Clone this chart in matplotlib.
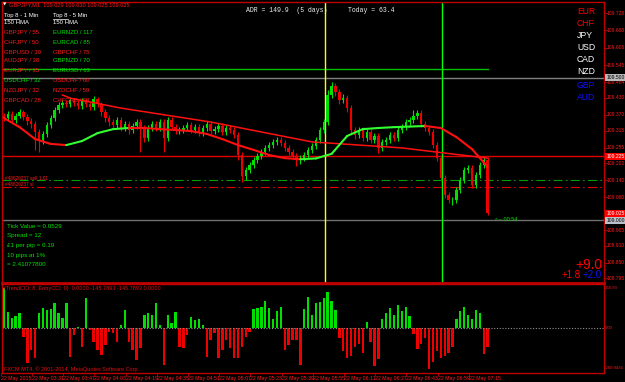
import numpy as np
import matplotlib
matplotlib.use('Agg')
import matplotlib.pyplot as plt
from matplotlib.lines import Line2D
from matplotlib.transforms import blended_transform_factory

plt.rcParams['font.family'] = ['Liberation Sans', 'DejaVu Sans']

W, H = 625, 382

# ---- GBPJPY candles, oldest first (one bar = 2 min, starting 03:15) ----
first_open = 109.366
closes = [109.359, 109.373, 109.352, 109.366, 109.380, 109.363, 109.349, 109.338, 109.310, 109.282,
          109.303, 109.334, 109.359, 109.387, 109.405, 109.412, 109.408, 109.422, 109.412, 109.401,
          109.419, 109.408, 109.398, 109.426, 109.408, 109.380, 109.359, 109.345, 109.334, 109.352,
          109.324, 109.338, 109.317, 109.331, 109.345, 109.324, 109.289, 109.324, 109.338, 109.324,
          109.345, 109.289, 109.352, 109.327, 109.313, 109.317, 109.324, 109.334, 109.317, 109.327,
          109.306, 109.324, 109.338, 109.313, 109.320, 109.331, 109.310, 109.324, 109.317, 109.299,
          109.229, 109.155, 109.176, 109.194, 109.211, 109.226, 109.240, 109.254, 109.264, 109.275,
          109.282, 109.271, 109.254, 109.240, 109.226, 109.211, 109.218, 109.229, 109.247, 109.261,
          109.282, 109.317, 109.345, 109.440, 109.472, 109.451, 109.422, 109.429, 109.394, 109.317,
          109.299, 109.317, 109.289, 109.310, 109.282, 109.296, 109.254, 109.275, 109.282, 109.299,
          109.289, 109.317, 109.327, 109.345, 109.352, 109.366, 109.377, 109.338, 109.324, 109.310,
          109.264, 109.218, 109.148, 109.088, 109.071, 109.071, 109.106, 109.141, 109.176, 109.183,
          109.124, 109.159, 109.194, 109.211, 109.025]
highs = [109.377, 109.384, 109.384, 109.377, 109.391, 109.387, 109.373, 109.359, 109.349, 109.320,
         109.313, 109.345, 109.370, 109.398, 109.415, 109.422, 109.422, 109.433, 109.429, 109.422,
         109.429, 109.429, 109.419, 109.436, 109.433, 109.415, 109.391, 109.370, 109.356, 109.363,
         109.363, 109.349, 109.349, 109.342, 109.356, 109.356, 109.334, 109.334, 109.349, 109.349,
         109.356, 109.356, 109.363, 109.363, 109.338, 109.327, 109.334, 109.345, 109.345, 109.338,
         109.338, 109.334, 109.349, 109.349, 109.331, 109.342, 109.342, 109.334, 109.334, 109.327,
         109.310, 109.240, 109.187, 109.204, 109.222, 109.236, 109.250, 109.264, 109.275, 109.285,
         109.292, 109.292, 109.282, 109.264, 109.250, 109.236, 109.229, 109.240, 109.257, 109.271,
         109.292, 109.327, 109.356, 109.458, 109.486, 109.482, 109.461, 109.443, 109.440, 109.405,
         109.327, 109.327, 109.327, 109.320, 109.320, 109.306, 109.306, 109.285, 109.292, 109.310,
         109.310, 109.327, 109.338, 109.356, 109.363, 109.387, 109.387, 109.387, 109.349, 109.334,
         109.320, 109.275, 109.229, 109.159, 109.099, 109.081, 109.117, 109.152, 109.187, 109.194,
         109.194, 109.169, 109.204, 109.222, 109.222]
lows = [109.349, 109.352, 109.342, 109.342, 109.359, 109.352, 109.334, 109.324, 109.247, 109.240,
        109.268, 109.292, 109.324, 109.349, 109.377, 109.394, 109.398, 109.398, 109.401, 109.391,
        109.391, 109.398, 109.387, 109.387, 109.398, 109.366, 109.345, 109.331, 109.320, 109.324,
        109.313, 109.313, 109.303, 109.306, 109.320, 109.240, 109.275, 109.278, 109.313, 109.313,
        109.313, 109.240, 109.278, 109.317, 109.303, 109.303, 109.306, 109.313, 109.306, 109.306,
        109.296, 109.296, 109.313, 109.303, 109.303, 109.310, 109.299, 109.299, 109.306, 109.289,
        109.211, 109.134, 109.141, 109.166, 109.183, 109.201, 109.215, 109.229, 109.243, 109.254,
        109.264, 109.261, 109.243, 109.229, 109.215, 109.190, 109.197, 109.208, 109.218, 109.236,
        109.250, 109.271, 109.306, 109.334, 109.429, 109.436, 109.408, 109.412, 109.380, 109.303,
        109.285, 109.289, 109.278, 109.278, 109.271, 109.271, 109.236, 109.243, 109.264, 109.271,
        109.278, 109.278, 109.306, 109.317, 109.334, 109.342, 109.356, 109.327, 109.313, 109.299,
        109.254, 109.208, 109.138, 109.078, 109.060, 109.053, 109.060, 109.095, 109.131, 109.166,
        109.113, 109.113, 109.148, 109.183, 109.018]

# 150 HMA (smooth, two-coloured) and long moving average
hma_idx = list(range(0, 125, 4))
hma_vals = [109.359, 109.327, 109.285, 109.268, 109.264, 109.278, 109.306, 109.320, 109.324, 109.324,
            109.320, 109.317, 109.313, 109.303, 109.285, 109.264, 109.247, 109.229, 109.218, 109.214,
            109.217, 109.233, 109.296, 109.320, 109.324, 109.327, 109.329, 109.331, 109.324, 109.292,
            109.250, 109.187]
ma_idx = [15, 17, 30, 53, 79, 102, 124]
ma_vals = [109.440, 109.429, 109.394, 109.345, 109.275, 109.254, 109.218]

# CCI histogram
cci = [260, 108, 65, 80, 98, -54, -224, -141, -195, 98,
       130, 119, 124, 163, 98, 65, 163, -184, -43, 6,
       -119, 195, -11, -87, -141, -174, -108, -22, -33, -87,
       22, 119, -87, -141, -206, -130, 87, 98, 87, 163,
       22, -239, 87, 33, 108, -119, -130, -43, 76, 54,
       59, 22, -184, -76, -33, -195, -141, -76, -130, -195,
       -195, -119, -54, -22, 124, 130, 141, 180, 130, 59,
       115, 141, -141, -108, -76, -76, -239, 124, 206, 87,
       163, 174, 200, 240, 180, 120, -60, -150, -196, -180,
       -120, -100, -163, 40, -90, -248, -200, 60, 100, 130,
       90, 150, 110, 140, 80, -40, -137, -100, -60, -267,
       -220, -150, -196, -180, -160, -120, 60, 110, 140, 90,
       60, 120, 100, -170, -120]

price_ticks = [109.728, 109.668, 109.606, 109.545, 109.484, 109.430, 109.370, 109.315, 109.255,
               109.200, 109.140, 109.080, 108.965, 108.910, 108.850, 108.795]
time_labels = ['22 May 2015', '22 May 03:31', '22 May 03:47', '22 May 04:03', '22 May 04:19',
               '22 May 04:35', '22 May 04:51', '22 May 05:07', '22 May 05:23', '22 May 05:39',
               '22 May 05:55', '22 May 06:11', '22 May 06:27', '22 May 06:43', '22 May 06:59',
               '22 May 07:15']

left_pairs = ['GBPJPY / 55', 'CHFJPY / 50', 'GBPUSD / 39', 'AUDJPY / 38',
              'EURJPY / 35', 'USDCHF / 32', 'NZDJPY / 32', 'GBPCAD / 28']
left_up = [0, 0, 0, 0, 0, 1, 0, 0]
right_pairs = ['EURNZD / 117', 'EURCAD / 85', 'GBPCHF / 75', 'GBPNZD / 70',
               'EURUSD / 63', 'USDCHF / 60', 'NZDCHF / 59', 'CHFCAD / 54']
right_up = [1, 1, 0, 1, 1, 0, 0, 0]
currencies = ['EUR', 'CHF', 'JPY', 'USD', 'CAD', 'NZD', 'GBP', 'AUD']
cur_colors = ['#ff0000', '#ff0000', 'white', 'white', 'white', 'white', '#1010ff', '#1010ff']
info_lines = ['Tick Value = 0.0529', 'Spread = 12', '\u00a31 per pip = 0.19',
              '10 pips at 1%', '= 2.41077800']

vline_pos = [82.3, 112.3]      # yellow, green
bid, level_500, level_000 = 109.025, 109.500, 109.000
hline_red, sell_level, sl_level, top_green = 109.225, 109.140, 109.117, 109.531

RED = '#ff1a1a'
GRN = '#00e000'
BORDER = '#c00000'
BULL = '#00e000'
BEAR = '#ee0000'
SMALL = 3.6


def fx(x):
    return x / W


def fy(y):
    return 1 - y / H


fig = plt.figure(figsize=(W / 100, H / 100), dpi=100, facecolor='black')
ax = fig.add_axes([fx(2), fy(283), fx(602), 281 / H], facecolor='black')
axc = fig.add_axes([fx(2), fy(373), fx(602), 89 / H], facecolor='black')

n = len(closes)
idx = np.arange(n)
opens = np.array([first_open] + closes[:-1])
closes_a = np.array(closes)

# candles
bull = closes_a >= opens
cols = np.where(bull, BULL, BEAR)
ax.vlines(idx, lows, highs, colors=cols, lw=0.8, zorder=3)
body = np.abs(closes_a - opens)
body = np.maximum(body, 0.0015)
ax.bar(idx, body, bottom=np.minimum(opens, closes_a), width=0.6, color=cols, zorder=4, linewidth=0)

# long MA
ax.plot(ma_idx, ma_vals, color='#ff1010', lw=1.1, zorder=5)
# HMA coloured by slope
for k in range(len(hma_idx) - 1):
    c = '#30ff30' if hma_vals[k + 1] > hma_vals[k] else '#ff1010'
    ax.plot(hma_idx[k:k + 2], hma_vals[k:k + 2], color=c, lw=1.5, zorder=5, solid_capstyle='round')

# horizontal lines
ax.plot([-0.5, n - 1], [top_green, top_green], color='#00c000', lw=1.0, zorder=2)
ax.axhline(level_500, color='#808080', lw=1.0, zorder=2)
ax.axhline(hline_red, color='#e00000', lw=1.0, zorder=2)
ax.axhline(sell_level, color='#00a000', lw=0.8, ls=(0, (8, 3, 1.5, 3)), zorder=2)
ax.axhline(sl_level, color='#e00000', lw=0.8, ls=(0, (8, 3, 1.5, 3)), zorder=2)
ax.axhline(level_000, color='#707070', lw=1.0, zorder=2)

# vertical lines
ax.axvline(vline_pos[0], color='#ffff00', lw=1.0, zorder=2)
ax.axvline(vline_pos[1], color='#00ff00', lw=1.0, zorder=2)

ax.set_xlim(-0.5, 153.85)
ax.set_ylim(108.779, 109.767)
axc.set_xlim(-0.5, 153.85)
axc.set_ylim(-291, 289)
for a in (ax, axc):
    a.set_xticks([])
    a.set_yticks([])
    for s in a.spines.values():
        s.set_color(BORDER)
        s.set_linewidth(1.0)
ax.spines['bottom'].set_linewidth(2.0)

# price scale labels
tr = blended_transform_factory(ax.transAxes, ax.transData)
for v in price_ticks:
    ax.text(1.004, v, f'{v:.3f}', transform=tr, color=RED, fontsize=SMALL,
            va='center', ha='left', clip_on=False)
    ax.plot([1.0, 1.005], [v, v], transform=tr, color=BORDER, lw=0.6, clip_on=False)
for v, fc, tc in [(level_500, '#b8b8b8', 'black'), (hline_red, '#ff0000', 'white'),
                  (bid, '#ff0000', 'white'), (level_000, '#b8c0c8', 'black')]:
    ax.text(1.004, v, f'{v:.3f}', transform=tr, color=tc, fontsize=SMALL, va='center', ha='left',
            clip_on=False, bbox=dict(boxstyle='square,pad=0.2', fc=fc, ec='none'), zorder=10)

# CCI histogram
cci_a = np.array(cci)
axc.bar(idx, cci_a, width=0.6, color=np.where(cci_a >= 0, '#00e000', '#ee0000'), linewidth=0)
axc.axhline(0, color='#909090', lw=0.8, ls=(0, (1, 1.5)))
trc = blended_transform_factory(axc.transAxes, axc.transData)
for v, s in [(260.93, '260.93'), (0, '0.00'), (-260.94, '-260.9435')]:
    axc.text(1.002, v, s, transform=trc, color=RED, fontsize=3.1, va='center', ha='left', clip_on=False)
axc.text(0.004, 0.95, '(TrendCCI: 8, EntryCCI: 0)  0.0000 -145.7893 -145.7893 0.0000',
         transform=axc.transAxes, color='#e01010', fontsize=4.0, va='center')
axc.text(0.004, 0.04, 'FXCM MT4, \u00a9 2001-2014, MetaQuotes Software Corp.',
         transform=axc.transAxes, color='#e01010', fontsize=4.0, va='center')

# time axis
trt = blended_transform_factory(axc.transData, axc.transAxes)
for k, lab in enumerate(time_labels):
    axc.text(8 * k - 0.8, -0.06, lab, transform=trt, color=RED, fontsize=3.8,
             va='center', ha='left', clip_on=False)
    axc.plot([8 * k - 0.8] * 2, [0, -0.02], transform=trt, color=BORDER, lw=0.6, clip_on=False)

# overlay texts
fig.text(fx(3), fy(5), '\u25bc', color='white', fontsize=3.2, va='center', family='DejaVu Sans')
fig.text(fx(9), fy(5), 'GBPJPY,M1  109.029 109.030 109.025 109.025', color=RED, fontsize=4.1, va='center')
fig.text(fx(4), fy(15), 'Top 8 - 1 Min', color='white', fontsize=4.3, va='center')
fig.text(fx(4), fy(22), '150 HMA', color='white', fontsize=4.3, va='center')
fig.text(fx(53), fy(15), 'Top 8 - 5 Min', color='white', fontsize=4.3, va='center')
fig.text(fx(53), fy(22), '150 HMA', color='white', fontsize=4.3, va='center')
fig.add_artist(Line2D([fx(4), fx(19)], [fy(18.5), fy(18.5)], color='white', lw=0.5))
fig.add_artist(Line2D([fx(53), fx(68)], [fy(18.5), fy(18.5)], color='white', lw=0.5))
rows_y = [32, 42, 52, 61, 71, 81, 91, 100]
for k in range(8):
    fig.text(fx(4), fy(rows_y[k]), left_pairs[k], color=GRN if left_up[k] else RED,
             fontsize=4.3, va='center', zorder=1)
    fig.text(fx(53), fy(rows_y[k]), right_pairs[k], color=GRN if right_up[k] else RED,
             fontsize=4.3, va='center', zorder=1)

fig.text(fx(246), fy(10), 'ADR = 149.9  (5 days)', color='#f0f0f0', fontsize=4.7, va='center',
         family='Liberation Mono')
fig.text(fx(348), fy(10), 'Today = 63.4', color='#f0f0f0', fontsize=4.7, va='center',
         family='Liberation Mono')

cur_y = [11, 23, 35, 47, 60, 72, 85, 97]
for k, c in enumerate(currencies):
    fig.text(fx(577), fy(cur_y[k]), c, color=cur_colors[k], fontsize=6.2, va='center')

info_y = [226, 235, 245, 255, 265]
for k, s in enumerate(info_lines):
    fig.text(fx(7), fy(info_y[k]), s, color=GRN, fontsize=4.5, va='center')

fig.text(fx(5), fy(178.5), '#48620237 sell 1.01', color=RED, fontsize=3.4, va='center')
fig.text(fx(5), fy(184), '#48620237 sl', color=RED, fontsize=3.4, va='center')
fig.text(fx(495), fy(219.5), '<-- 00:54', color=GRN, fontsize=4.0, va='center')

fig.text(fx(602), fy(265), '+9.0', color='#ff0000', fontsize=10.0, va='center', ha='right')
fig.text(fx(581), fy(274.5), '+1.8', color='#ff0000', fontsize=7.0, va='center', ha='right')
fig.text(fx(583), fy(274.5), '+2.0', color='#1010ff', fontsize=7.0, va='center', ha='left')

fig.savefig('out.png', dpi=100, facecolor='black')
